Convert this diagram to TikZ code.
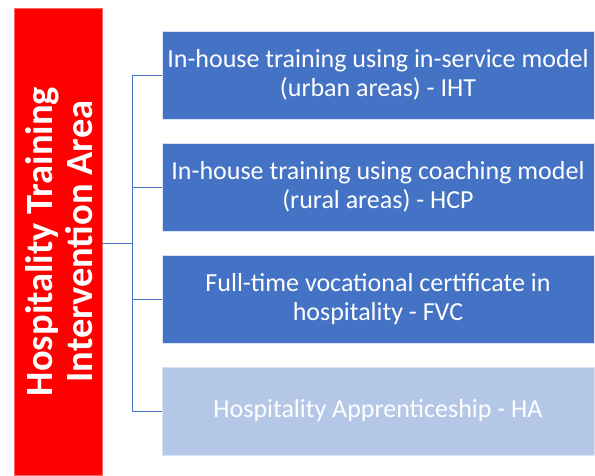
\documentclass[tikz,border=0pt]{standalone}
\usepackage{fontspec}
\setmainfont{Carlito}
\definecolor{areared}{HTML}{FF0000}
\definecolor{boxblue}{HTML}{4472C4}
\definecolor{boxpale}{HTML}{B4C7E7}
\tikzset{
  area/.style={fill=areared, draw=areared!60, line width=0.4pt, text=white,
    minimum width=88pt, minimum height=467pt, inner sep=0pt},
  item/.style={fill=boxblue, draw=white!80!boxblue, line width=0.5pt, text=white,
    minimum width=432pt, minimum height=88pt, inner sep=2pt, align=center,
    font=\fontsize{26}{28.5}\selectfont},
  link/.style={draw=boxblue, line width=0.9pt}
}
\begin{document}
\begin{tikzpicture}[x=1pt,y=-1pt]
            \useasboundingbox (0,0) rectangle (595,475);
            
            % Intervention area on the left
            \node [area] (area) at (58,241.5) {};%
            \node [rotate=90, align=center, text=white,
              font=\bfseries\fontsize{38.5}{40}\selectfont] (areatext) at (59,241.5)
              {Hospitality Training\\Intervention Area};%
            
            % Training options
            \node [item] (iht) at (378,75) {In-house training using in-service model\\(urban areas) - IHT};%
            \node [item] (hcp) at (378,187) {In-house training using coaching model\\(rural areas) - HCP};%
            \node [item] (fvc) at (378,299) {Full-time vocational certificate in\\hospitality - FVC};%
            \node [item, fill=boxpale] (ha) at (378,411) {Hospitality Apprenticeship - HA};%
            
            % Branch point
            \coordinate (hub) at (132,243);%
            
            % Drawing links area -- options
            \draw [link] (area.east |- hub) -- (hub);%
            \draw [link] (hub |- iht.west) -- (hub |- ha.west);%
            \draw [link] (hub |- iht.west) -- (iht.west);%
            \draw [link] (hub |- hcp.west) -- (hcp.west);%
            \draw [link] (hub |- fvc.west) -- (fvc.west);%
            \draw [link] (hub |- ha.west) -- (ha.west);%
\end{tikzpicture}
\end{document}
